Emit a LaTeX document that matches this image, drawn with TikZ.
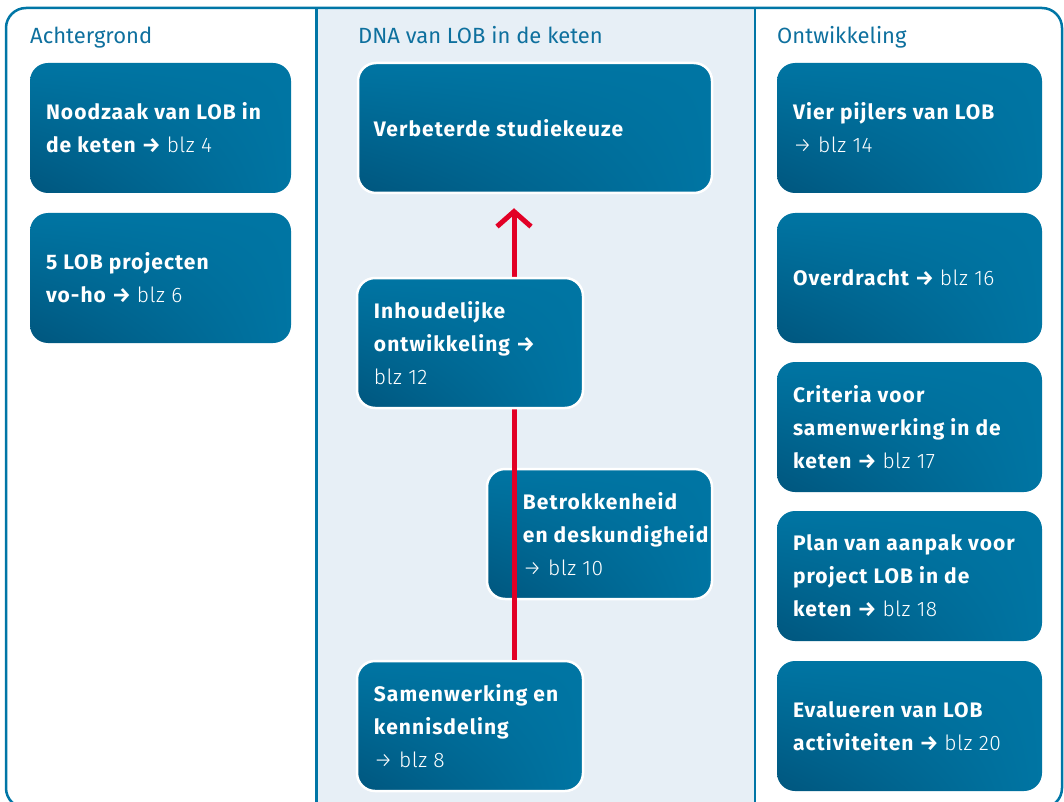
\documentclass[tikz,border=0pt]{standalone}
\usepackage{fontspec}
\setmainfont{Fira Sans}[BoldFeatures={LetterSpace=5}]
\newfontfamily\lightfont{Fira Sans Light}[LetterSpace=2]
\usetikzlibrary{arrows.meta,shadings,calc}
\definecolor{frameblue}{RGB}{0,118,166}
\definecolor{headblue}{RGB}{14,112,158}
\definecolor{midbg}{RGB}{231,239,246}
\definecolor{boxmain}{RGB}{0,117,163}
\definecolor{boxdark}{RGB}{0,86,126}
\definecolor{redline}{RGB}{226,0,38}
\tikzset{
  box/.style={shape=rectangle, rounded corners=18pt, inner sep=0pt,
    minimum height=130pt, shading=bilinear interpolation,
    lower left=boxdark, upper left=boxmain, upper right=boxmain, lower right=boxmain},
  midbox/.style={box, draw=white, line width=2.5pt},
  txt/.style={anchor=west, inner sep=0pt, align=left, text=white,
    font=\fontsize{21}{33}\selectfont\bfseries},
  head/.style={anchor=base west, inner sep=0pt, text=headblue,
    font=\fontsize{22}{26}\selectfont}
}
\newcommand{\blz}[1]{{\lightfont\mdseries #1}}
\begin{document}
\begin{tikzpicture}[x=1pt,y=-1pt]
\clip (0,0) rectangle (1064,802);
% background areas
\fill[midbg] (317,9) rectangle (755,802);
\draw[frameblue, line width=2.5pt, rounded corners=20pt] (6,8) rectangle (1062,808);
\draw[frameblue, line width=2.5pt] (316.5,8) -- (316.5,802);
\draw[frameblue, line width=2.5pt] (755,8) -- (755,802);
% headings
\node[head] (h1) at (30,44) {Achtergrond};
\node[head] (h2) at (358,44) {DNA van LOB in de keten};
\node[head] (h3) at (777,44) {Ontwikkeling};
% left column
\node[box, minimum width=261pt] (l1) at (160.5,128) {};
\node[txt] (l1t) at ([xshift=16pt]l1.west) {Noodzaak van LOB in\\de keten → \blz{blz 4}};
\node[box, minimum width=261pt] (l2) at (160.5,278) {};
\node[txt] (l2t) at ([xshift=16pt]l2.west) {5 LOB projecten\\vo-ho → \blz{blz 6}};
% right column
\node[box, minimum width=265pt] (r1) at (909.5,128) {};
\node[txt] (r1t) at ([xshift=16pt]r1.west) {Vier pijlers van LOB\\\blz{→ blz 14}};
\node[box, minimum width=265pt] (r2) at (909.5,278) {};
\node[txt] (r2t) at ([xshift=16pt]r2.west) {Overdracht → \blz{blz 16}};
\node[box, minimum width=265pt] (r3) at (909.5,427) {};
\node[txt] (r3t) at ([xshift=16pt]r3.west) {Criteria voor\\samenwerking in de\\keten → \blz{blz 17}};
\node[box, minimum width=265pt] (r4) at (909.5,576) {};
\node[txt] (r4t) at ([xshift=16pt]r4.west) {Plan van aanpak voor\\project LOB in de\\keten → \blz{blz 18}};
\node[box, minimum width=265pt] (r5) at (909.5,726) {};
\node[txt] (r5t) at ([xshift=16pt]r5.west) {Evalueren van LOB\\activiteiten → \blz{blz 20}};
% middle column
\node[midbox, minimum width=354pt] (m1) at (535,128) {};
\node[txt] (m1t) at ([xshift=17pt]m1.west) {Verbeterde studiekeuze};
\node[midbox, minimum width=226pt] (m4) at (470,726) {};
\node[txt] (m4t) at ([xshift=18pt]m4.west) {Samenwerking en\\kennisdeling\\\blz{→ blz 8}};
\node[midbox, minimum width=225pt] (m3) at (599.5,534) {};
\node[txt] (m3t) at ([xshift=37pt]m3.west) {Betrokkenheid\\en deskundigheid\\\blz{→ blz 10}};
\coordinate (ax) at (514,0);
\draw[redline, line width=5pt, -{Straight Barb[length=15pt,width=34pt]}]
  (m4.north -| ax) -- ([yshift=-14pt]m1.south -| ax);
\node[midbox, minimum width=226pt] (m2) at (470,343) {};
\node[txt] (m2t) at ([xshift=18pt]m2.west) {Inhoudelijke\\ontwikkeling →\\\blz{blz 12}};
\end{tikzpicture}
\end{document}
